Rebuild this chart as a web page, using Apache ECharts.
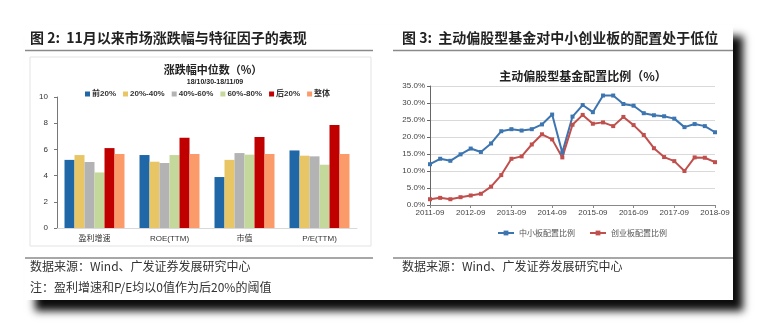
<!DOCTYPE html>
<html><head><meta charset="utf-8">
<script src="https://cdn.jsdelivr.net/npm/echarts@6/dist/echarts.min.js"></script>
<style>html,body{margin:0;padding:0;background:#fff}#c{width:758px;height:325px}</style>
</head><body><div id="c"></div>
<script>
// ---- Figure 2 data ----
var barCategories = ['盈利增速', 'ROE(TTM)', '市值', 'P/E(TTM)'];
var barSeriesNames = ['前20%', '20%-40%', '40%-60%', '60%-80%', '后20%', '整体'];
var top20 = [5.2, 5.57, 3.89, 5.92];
var q20to40 = [5.57, 5.06, 5.2, 5.52];
var q40to60 = [5.04, 4.96, 5.72, 5.47];
var q60to80 = [4.24, 5.57, 5.6, 4.83];
var bottom20 = [6.1, 6.89, 6.95, 7.86];
var overall = [5.65, 5.65, 5.65, 5.65];
var barYTicks = [0, 2, 4, 6, 8, 10];

// ---- Figure 3 data ----
var quarters = ['2011-09','2011-12','2012-03','2012-06','2012-09','2012-12','2013-03','2013-06','2013-09','2013-12',
  '2014-03','2014-06','2014-09','2014-12','2015-03','2015-06','2015-09','2015-12','2016-03','2016-06','2016-09',
  '2016-12','2017-03','2017-06','2017-09','2017-12','2018-03','2018-06','2018-09'];
var lineSeriesNames = ['中小板配置比例', '创业板配置比例'];
var smeRatio = [12.0,13.6,13.0,14.9,16.6,15.6,18.1,21.7,22.3,21.9,22.3,23.7,26.6,15.4,26.0,29.4,27.3,32.2,32.2,29.7,29.2,27.0,26.4,26.1,25.4,22.9,23.8,23.2,21.4];
var gemRatio = [1.7,2.1,1.7,2.3,2.8,3.3,5.4,8.8,13.6,14.3,17.8,20.8,19.3,14.0,23.6,26.5,23.9,24.3,23.2,25.9,23.5,20.6,16.7,14.1,12.9,10.0,14.0,13.9,12.6];

var barColors = ['#1f67a6', '#e8c665', '#b3b3b3', '#c5d89c', '#c00000', '#fb9b6a'];
var lineColors = ['#3d75b0', '#c0504d'];
var FF = 'Liberation Sans, Noto Sans CJK SC, sans-serif';
var CJK = 'Noto Sans CJK SC, Liberation Sans, sans-serif';

var barData = [top20, q20to40, q40to60, q60to80, bottom20, overall];
var series = barSeriesNames.map(function (n, i) {
  return { name: n, type: 'bar', xAxisIndex: 0, yAxisIndex: 0, data: barData[i],
    barGap: '0%', barCategoryGap: '20%', itemStyle: { color: barColors[i] } };
});
[smeRatio, gemRatio].forEach(function (d, i) {
  series.push({ name: lineSeriesNames[i], type: 'line', xAxisIndex: 1, yAxisIndex: 1, data: d,
    symbol: 'rect', symbolSize: 4, lineStyle: { width: 2, color: lineColors[i] },
    itemStyle: { color: lineColors[i] } });
});

var chart = echarts.init(document.getElementById('c'));
chart.setOption({
  animation: false,
  backgroundColor: '#fff',
  graphic: [
    { type: 'rect', z: -10, shape: { x: 25, y: 25, width: 708, height: 275 },
      style: { fill: '#fff', shadowBlur: 8, shadowColor: 'rgba(0,0,0,0.95)', shadowOffsetX: 10, shadowOffsetY: 11 } },
    { type: 'rect', z: -9, shape: { x: 30, y: 57, width: 341, height: 189 },
      style: { fill: 'none', stroke: '#e3e3e3', lineWidth: 1 } },
    { type: 'line', shape: { x1: 25, y1: 50.5, x2: 373, y2: 50.5 }, style: { stroke: '#8a8a8a', lineWidth: 1.5 } },
    { type: 'line', shape: { x1: 393, y1: 50.5, x2: 733, y2: 50.5 }, style: { stroke: '#8a8a8a', lineWidth: 1.5 } },
    { type: 'line', shape: { x1: 25, y1: 258, x2: 373, y2: 258 }, style: { stroke: '#8a8a8a', lineWidth: 1.5 } },
    { type: 'line', shape: { x1: 393, y1: 258, x2: 733, y2: 258 }, style: { stroke: '#8a8a8a', lineWidth: 1.5 } },
    { type: 'text', left: 30, top: 31, style: { text: '图 2:  11月以来市场涨跌幅与特征因子的表现', fill: '#222', font: 'bold 14px ' + CJK } },
    { type: 'text', left: 402, top: 31, style: { text: '图 3:  主动偏股型基金对中小创业板的配置处于低位', fill: '#222', font: 'bold 14px ' + CJK } },
    { type: 'text', left: 30, top: 260, style: { text: '数据来源：Wind、广发证券发展研究中心', fill: '#333', font: '12px ' + CJK } },
    { type: 'text', left: 30, top: 281, style: { text: '注：盈利增速和P/E均以0值作为后20%的阈值', fill: '#333', font: '12px ' + CJK } },
    { type: 'text', left: 402, top: 260, style: { text: '数据来源：Wind、广发证券发展研究中心', fill: '#333', font: '12px ' + CJK } }
  ],
  title: [
    { text: '涨跌幅中位数（%）', left: 208, top: 59, textAlign: 'center',
      textStyle: { fontSize: 11, fontWeight: 'bold', color: '#222', fontFamily: CJK } },
    { text: '18/10/30-18/11/09', left: 210, top: 74, textAlign: 'center',
      textStyle: { fontSize: 7, fontWeight: 'bold', color: '#222', fontFamily: FF } },
    { text: '主动偏股型基金配置比例（%）', left: 578, top: 65, textAlign: 'center',
      textStyle: { fontSize: 12, fontWeight: 'bold', color: '#222', fontFamily: CJK } }
  ],
  legend: [
    { data: barSeriesNames, left: 80, top: 85, itemWidth: 5, itemHeight: 5, itemGap: 7, icon: 'rect',
      textStyle: { fontSize: 8, fontWeight: 'bold', color: '#333', fontFamily: FF, padding: [0, 0, 0, -3] } },
    { data: lineSeriesNames, left: 492, top: 224, itemWidth: 16, itemHeight: 6, itemGap: 14,
      textStyle: { fontSize: 8, color: '#555', fontFamily: CJK } }
  ],
  grid: [
    { left: 57, right: 401, top: 97, bottom: 97 },
    { left: 430, right: 43, top: 86, bottom: 120 }
  ],
  xAxis: [
    { type: 'category', gridIndex: 0, data: barCategories,
      axisLine: { lineStyle: { color: '#d9d9d9' } }, axisTick: { show: false },
      axisLabel: { fontSize: 8, color: '#333', fontFamily: FF, margin: 7 } },
    { type: 'category', gridIndex: 1, data: quarters, boundaryGap: false,
      axisLine: { lineStyle: { color: '#888' } },
      axisTick: { interval: 3, length: 3, lineStyle: { color: '#888' } },
      axisLabel: { interval: 3, fontSize: 8, color: '#444', fontFamily: FF, margin: 4 } }
  ],
  yAxis: [
    { type: 'value', gridIndex: 0, min: barYTicks[0], max: barYTicks[barYTicks.length - 1], interval: 2,
      axisLine: { show: true, lineStyle: { color: '#777' } }, axisTick: { show: true, length: 3, lineStyle: { color: '#777' } },
      splitLine: { show: false },
      axisLabel: { fontSize: 8, color: '#333', fontFamily: FF, margin: 9 } },
    { type: 'value', gridIndex: 1, min: 0, max: 35, interval: 5,
      axisLine: { show: true, lineStyle: { color: '#666' } }, axisTick: { show: true, length: 3, lineStyle: { color: '#666' } },
      splitLine: { lineStyle: { color: '#d9d9d9' } },
      axisLabel: { fontSize: 8, color: '#444', fontFamily: FF, margin: 5,
        formatter: function (v) { return v.toFixed(1) + '%'; } } }
  ],
  series: series
});
</script></body></html>
